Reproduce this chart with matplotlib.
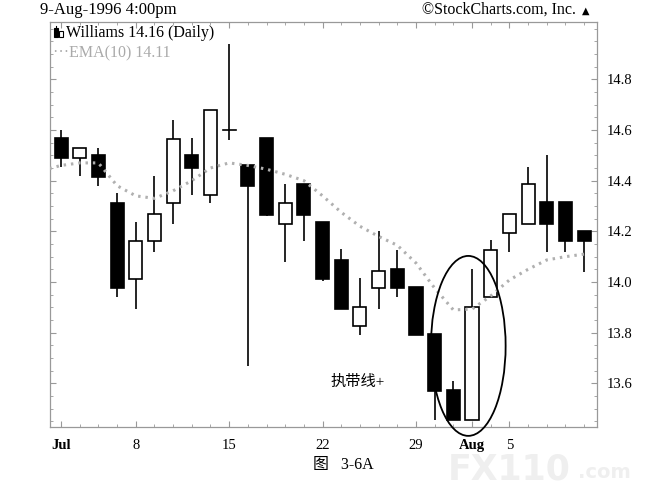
import numpy as np
import matplotlib.pyplot as plt
from matplotlib.patches import Rectangle, Ellipse
from matplotlib.ticker import MultipleLocator

plt.rcParams['font.family'] = ['Liberation Serif', 'Noto Sans CJK SC', 'DejaVu Sans']

# daily bars, 1-Jul-1996 .. 9-Aug-1996 (no 4-Jul)
days = ['07-01', '07-02', '07-03', '07-05', '07-08', '07-09', '07-10', '07-11', '07-12',
        '07-15', '07-16', '07-17', '07-18', '07-19', '07-22', '07-23', '07-24', '07-25',
        '07-26', '07-29', '07-30', '07-31', '08-01', '08-02', '08-05', '08-06', '08-07',
        '08-08', '08-09']
opens = [14.57, 14.49, 14.50, 14.31, 14.01, 14.16, 14.31, 14.50, 14.345, 14.60,
         14.46, 14.57, 14.23, 14.385, 14.235, 14.085, 13.825, 13.975, 14.05, 13.98,
         13.795, 13.575, 13.455, 13.94, 14.195, 14.23, 14.315, 14.315, 14.20]
highs = [14.60, 14.53, 14.53, 14.35, 14.235, 14.42, 14.64, 14.57, 14.68, 14.94,
         14.46, 14.57, 14.385, 14.385, 14.235, 14.13, 14.015, 14.20, 14.125, 13.98,
         13.795, 13.61, 14.05, 14.165, 14.27, 14.455, 14.50, 14.315, 14.20]
lows = [14.455, 14.42, 14.38, 13.94, 13.895, 14.12, 14.23, 14.345, 14.31, 14.56,
        13.67, 14.26, 14.08, 14.16, 14.005, 13.895, 13.79, 13.895, 13.94, 13.79,
        13.455, 13.455, 13.455, 13.94, 14.12, 14.23, 14.12, 14.12, 14.04]
closes = [14.49, 14.53, 14.415, 13.975, 14.16, 14.27, 14.565, 14.45, 14.68, 14.60,
          14.38, 14.265, 14.31, 14.265, 14.01, 13.895, 13.90, 14.045, 13.975, 13.79,
          13.57, 13.455, 13.90, 14.125, 14.27, 14.385, 14.23, 14.16, 14.16]
# EMA(10), first value is the prior day (28-Jun)
ema = [14.44, 14.46, 14.47, 14.47, 14.38, 14.34, 14.33, 14.36, 14.40, 14.45, 14.47,
       14.46, 14.445, 14.425, 14.40, 14.34, 14.275, 14.22, 14.18, 14.145, 14.075,
       13.976, 13.89, 13.893, 13.945, 14.008, 14.05, 14.087, 14.10, 14.11]

tick_pos = [0, 4, 9, 14, 19, 22, 24]
tick_labels = ['Jul', '8', '15', '22', '29', 'Aug', '5']

fig = plt.figure(figsize=(6.53, 5.03), dpi=100)

# faint site watermark, behind everything
fig.text(0.78, 0.066, 'FX110', fontsize=25, fontweight='bold', color='#efefef',
         ha='center', va='center', family=['DejaVu Sans'], zorder=0)
fig.text(0.925, 0.060, '.com', fontsize=14, fontweight='bold', color='#efefef',
         ha='center', va='center', family=['DejaVu Sans'], zorder=0)

ax = fig.add_axes([0.0766, 0.1511, 0.9142 - 0.0766, 0.9563 - 0.1511])
ax.patch.set_alpha(0)

w = 0.7
for i in range(len(days)):
    o, h, l, c = opens[i], highs[i], lows[i], closes[i]
    top, bot = max(o, c), min(o, c)
    ax.plot([i, i], [top, h], color='black', lw=1.2, zorder=2, solid_capstyle='butt')
    ax.plot([i, i], [l, bot], color='black', lw=1.2, zorder=2, solid_capstyle='butt')
    face = 'black' if c < o else 'white'
    if o == c:
        ax.plot([i - w / 2, i + w / 2], [o, o], color='black', lw=1.2, zorder=3)
    else:
        ax.add_patch(Rectangle((i - w / 2, bot), w, top - bot, facecolor=face,
                               edgecolor='black', lw=1.2, zorder=3))

ax.plot(np.arange(-1, len(days)), ema, color='#b0b0b0', lw=2.2,
        linestyle=(0, (0.8, 1.6)), zorder=4)

ax.add_patch(Ellipse((21.8, 13.748), 4.0, 0.71, fill=False, edgecolor='black',
                     lw=1.3, zorder=5, clip_on=False))
ax.text(15.85, 13.605, '执带线+', fontsize=11, ha='center', va='center')

ax.set_xlim(-0.59, 28.69)
ax.set_ylim(13.428, 15.026)

ax.yaxis.tick_right()
ax.set_yticks([13.6, 13.8, 14.0, 14.2, 14.4, 14.6, 14.8])
ax.yaxis.set_minor_locator(MultipleLocator(0.05))
ax.set_xticks(tick_pos)
ax.set_xticklabels(tick_labels)
ax.set_xticks(range(len(days)), minor=True)
for lab in ax.get_xticklabels():
    if lab.get_text() in ('Jul', 'Aug'):
        lab.set_fontweight('bold')
ax.tick_params(axis='both', which='both', direction='in', colors='#999999',
               labelcolor='black', labelsize=10.5, top=True, left=True, right=True)
ax.tick_params(which='major', length=4)
ax.tick_params(which='minor', length=2)
ax.tick_params(axis='x', pad=9)
ax.tick_params(axis='y', pad=7)
for s in ax.spines.values():
    s.set_color('#999999')
    s.set_linewidth(0.9)

# legend icon and labels
ax.add_patch(Rectangle((0.007, 0.962), 0.007, 0.022, transform=ax.transAxes,
                       facecolor='black', edgecolor='black', lw=0.8))
ax.add_patch(Rectangle((0.017, 0.962), 0.006, 0.016, transform=ax.transAxes,
                       facecolor='white', edgecolor='black', lw=0.8))
ax.plot([0.0105, 0.0105], [0.984, 0.990], transform=ax.transAxes, color='black', lw=0.8)
ax.text(0.029, 0.973, 'Williams 14.16 (Daily)', transform=ax.transAxes, fontsize=11.5,
        va='center', ha='left')
ax.text(0.005, 0.922, '\u00b7\u00b7\u00b7EMA(10) 14.11', transform=ax.transAxes,
        fontsize=11.5, va='center', ha='left', color='#aaaaaa')

fig.text(0.061, 0.980, '9-Aug-1996 4:00pm', fontsize=12, va='center', ha='left')
fig.text(0.882, 0.980, '\u00a9StockCharts.com, Inc.', fontsize=11.5, va='center', ha='right')
fig.text(0.897, 0.978, '\u25b2', fontsize=7, va='center', ha='center',
         family=['DejaVu Sans'])
fig.text(0.525, 0.075, '图   3-6A', fontsize=11.5, ha='center', va='center')

fig.savefig('out.png', dpi=100)
